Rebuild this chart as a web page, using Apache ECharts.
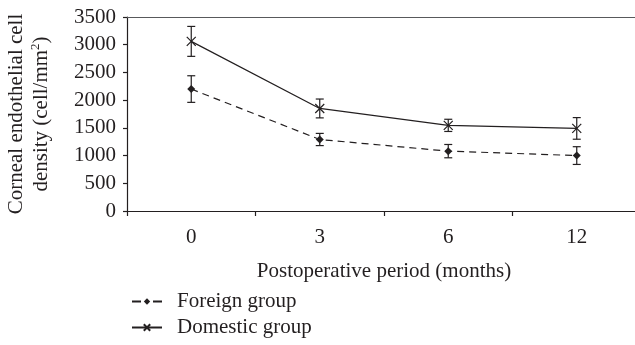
<!DOCTYPE html>
<html>
<head>
<meta charset="utf-8">
<script src="https://cdn.jsdelivr.net/npm/echarts@6/dist/echarts.min.js"></script>
<style>
  html, body { margin: 0; padding: 0; background: #fff; }
  #chart { width: 635px; height: 345px; }
</style>
</head>
<body>
<div id="chart"></div>
<script>
// Postoperative follow-up points (months)
const periods = ['0', '3', '6', '12'];

// Mean corneal endothelial cell density (cells/mm^2) and standard deviations
const foreignMean = [2200, 1290, 1080, 1000];
const foreignSD = [240, 110, 120, 160];
const domesticMean = [3060, 1850, 1545, 1490];
const domesticSD = [270, 170, 110, 195];

const yTicks = { min: 0, max: 3500, interval: 500 };

const FONT = '"Liberation Serif", "DejaVu Serif", serif';
const INK = '#231f20';
const FS = 21;

// Build [categoryIndex, low, high] triples for the error bars
function errorData(mean, sd) {
  return mean.map((m, i) => [i, m - sd[i], m + sd[i]]);
}

function renderErrorBar(params, api) {
  const x = api.value(0);
  const lo = api.coord([x, api.value(1)]);
  const hi = api.coord([x, api.value(2)]);
  const half = 4;
  const style = { stroke: INK, lineWidth: 1.2 };
  return {
    type: 'group',
    children: [
      { type: 'line', shape: { x1: lo[0], y1: lo[1], x2: hi[0], y2: hi[1] }, style },
      { type: 'line', shape: { x1: lo[0] - half, y1: lo[1], x2: lo[0] + half, y2: lo[1] }, style },
      { type: 'line', shape: { x1: hi[0] - half, y1: hi[1], x2: hi[0] + half, y2: hi[1] }, style }
    ]
  };
}

const chart = echarts.init(document.getElementById('chart'), null, { renderer: 'canvas' });

chart.setOption({
  animation: false,
  backgroundColor: '#fff',
  textStyle: { fontFamily: FONT, color: INK },
  grid: {
    left: 127, top: 17, width: 514, height: 194,
    containLabel: false,
    outerBoundsMode: 'none'
  },
  legend: {
    orient: 'vertical',
    left: 126,
    top: 286,
    itemWidth: 30,
    itemHeight: 8,
    itemGap: 5,
    textStyle: { fontFamily: FONT, fontSize: FS, color: INK, padding: [0, 0, 0, 10] },
    data: [
      { name: 'Foreign group', lineStyle: { type: [9, 12], dashOffset: 0 } },
      { name: 'Domestic group' }
    ]
  },
  xAxis: [
    {
      type: 'category',
      data: periods,
      boundaryGap: true,
      name: 'Postoperative period (months)',
      nameLocation: 'middle',
      nameGap: 50,
      nameTextStyle: { fontFamily: FONT, fontSize: FS, color: INK },
      axisLine: { lineStyle: { color: INK, width: 1.2 } },
      axisTick: { show: true, length: 5, lineStyle: { color: INK, width: 1.2 } },
      axisLabel: { fontFamily: FONT, fontSize: FS, color: INK, margin: 16 },
      splitLine: { show: false }
    },
    {
      // plain rule along the top of the plotting area
      type: 'category',
      position: 'top',
      data: periods,
      axisLine: { lineStyle: { color: '#58595b', width: 1.2 } },
      axisTick: { show: false },
      axisLabel: { show: false },
      splitLine: { show: false }
    }
  ],
  yAxis: {
    type: 'value',
    min: yTicks.min,
    max: yTicks.max,
    interval: yTicks.interval,
    name: '{t|Corneal endothelial cell}\n{t|density (cell/mm}{s|2}{t|)}',
    nameLocation: 'middle',
    nameRotate: 90,
    nameGap: 73,
    nameTextStyle: {
      fontFamily: FONT,
      color: INK,
      lineHeight: 25,
      rich: {
        t: { fontFamily: FONT, fontSize: 21, color: INK, lineHeight: 25 },
        s: { fontFamily: FONT, fontSize: 13, color: INK, lineHeight: 25, verticalAlign: 'top', padding: [0, 0, 10, 0] }
      }
    },
    axisLine: { show: true, lineStyle: { color: INK, width: 1.2 } },
    axisTick: { show: true, length: 4, lineStyle: { color: INK, width: 1.2 } },
    axisLabel: { fontFamily: FONT, fontSize: FS, color: INK, margin: 11, formatter: v => String(v) },
    splitLine: { show: false }
  },
  series: [
    {
      name: 'Foreign group',
      type: 'line',
      data: foreignMean,
      symbol: 'diamond',
      symbolSize: 8,
      itemStyle: { color: INK, borderColor: INK, borderWidth: 0 },
      lineStyle: { color: INK, width: 1.2, type: [7, 5] },
      z: 3
    },
    {
      name: 'Domestic group',
      type: 'line',
      data: domesticMean,
      symbol: 'path://M0,0L10,10M10,0L0,10',
      symbolSize: 9,
      itemStyle: { color: 'rgba(0,0,0,0)', borderColor: INK, borderWidth: 1.2 },
      lineStyle: { color: INK, width: 1.2, type: 'solid' },
      z: 3
    },
    {
      type: 'custom',
      data: errorData(foreignMean, foreignSD),
      renderItem: renderErrorBar,
      encode: { x: 0, y: [1, 2] },
      silent: true,
      z: 2
    },
    {
      type: 'custom',
      data: errorData(domesticMean, domesticSD),
      renderItem: renderErrorBar,
      encode: { x: 0, y: [1, 2] },
      silent: true,
      z: 2
    }
  ]
});
</script>
</body>
</html>
